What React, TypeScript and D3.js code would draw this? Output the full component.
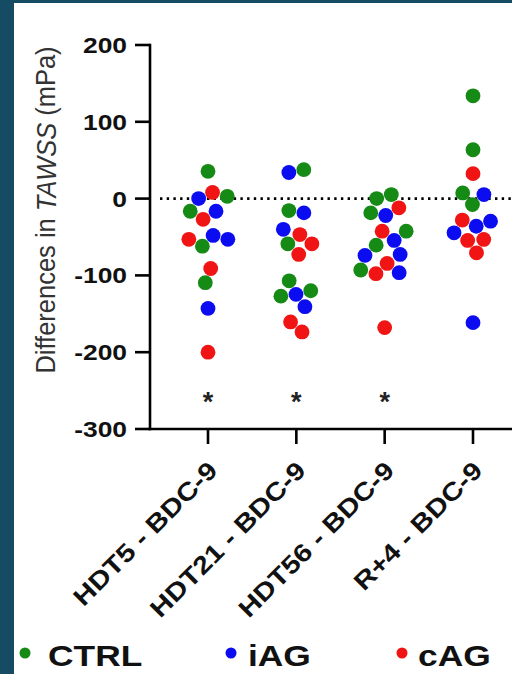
import React, { useMemo } from "react";
import * as d3 from "d3";

// ---------- data ----------
const categories = ["HDT5 - BDC-9", "HDT21 - BDC-9", "HDT56 - BDC-9", "R+4 - BDC-9"];
const seriesNames = ["CTRL", "iAG", "cAG"];
const ctrlValues = [
  [35.5, 3, -16.5, -62, -109.5],
  [37.7, -15.6, -58.9, -107, -127, -120],
  [5.2, 0, -18.6, -42.4, -60.6, -93],
  [133.8, 63.6, 7.4, -7.8],
];
const iagValues = [
  [0, -16.5, -53, -48, -143],
  [34, -18.6, -40, -124.7, -140.7],
  [-22, -54.5, -74, -72.7, -96.5],
  [5.2, -36, -29.4, -44.6, -161.5],
];
const cagValues = [
  [8, -27, -53, -91, -200],
  [-46.8, -58.9, -72.7, -160.6, -173.6],
  [-12, -42.4, -84.4, -97.8, -168],
  [32.5, -28, -54.5, -53.2, -70.6],
];
const significance = ["*", "*", "*", ""];
const yTicks = [200, 100, 0, -100, -200, -300];
const yLabelPre = "Differences in ";
const yLabelItalic = "TAWSS";
const yLabelPost = " (mPa)";

// ---------- style ----------
const W = 512;
const H = 674;
const seriesColors = ["#158a15", "#0c0cf0", "#f01414"];
const teal = "#154b63";
const font = "'Liberation Sans', Arial, Helvetica, sans-serif";
const R = 7.4;

type Node = { cx: number; x: number; y: number; fy: number; color: string };

export default function App() {
  const x = d3.scalePoint<string>().domain(categories).range([208, 473]);
  const y = d3.scaleLinear().domain([-300, 200]).range([429, 45]);
  const allSeries = [ctrlValues, iagValues, cagValues];

  const nodes = useMemo(() => {
    const out: Node[] = [];
    categories.forEach((c, ci) => {
      const cx = x(c) as number;
      allSeries.forEach((s, si) => {
        s[ci].forEach((v) => {
          const py = y(v);
          out.push({ cx, x: cx, y: py, fy: py, color: seriesColors[si] });
        });
      });
    });
    const sim = d3
      .forceSimulation<Node>(out)
      .force("x", d3.forceX<Node>((d) => d.cx).strength(0.06))
      .force("collide", d3.forceCollide<Node>(R + 0.2).iterations(3))
      .stop();
    for (let i = 0; i < 400; i++) sim.tick();
    return out;
  }, []);

  const axisY = y(-300);
  const axisX = 150;

  return (
    <svg
      width={W}
      height={H}
      style={{ position: "absolute", left: 0, top: 0 }}
      fontFamily={font}
    >
      <rect x={0} y={0} width={W} height={H} fill={teal} />
      <rect x={14} y={3} width={W - 14} height={H - 3} fill="#ffffff" />

      {/* zero dotted line */}
      <line
        x1={160}
        x2={W}
        y1={y(0)}
        y2={y(0)}
        stroke="#000"
        strokeWidth={2.6}
        strokeDasharray="2.4 4.3"
      />

      {/* y axis */}
      <line x1={axisX} x2={axisX} y1={y(200) - 1.3} y2={axisY + 1.3} stroke="#000" strokeWidth={2.6} />
      {yTicks.map((t) => (
        <g key={t}>
          <line x1={axisX - 15} x2={axisX} y1={y(t)} y2={y(t)} stroke="#000" strokeWidth={2.6} />
          <text
            transform={`translate(${axisX - 23},${y(t) + 8}) scale(1.2,1)`}
            textAnchor="end"
            fontSize={22}
            fontWeight="bold"
            fill="#111"
          >
            {t}
          </text>
        </g>
      ))}
      <text
        transform={`translate(45,210) scale(1.12,1) rotate(-90)`}
        textAnchor="middle"
        dominantBaseline="central"
        fontSize={25.5}
        fill="#333"
      >
        {yLabelPre}
        <tspan fontStyle="italic">{yLabelItalic}</tspan>
        {yLabelPost}
      </text>

      {/* x axis */}
      <line x1={axisX - 1.3} x2={W} y1={axisY} y2={axisY} stroke="#000" strokeWidth={2.6} />
      {categories.map((c, i) => {
        const cx = x(c) as number;
        return (
          <g key={c}>
            <line x1={cx} x2={cx} y1={axisY} y2={axisY + 15} stroke="#000" strokeWidth={2.6} />
            <text
              transform={`translate(${cx + 11},${axisY + 43}) rotate(-45) scale(1.17,1)`}
              textAnchor="end"
              fontSize={25}
              fontWeight="bold"
              fill="#111"
            >
              {c}
            </text>
            {significance[i] && (
              <text
                x={cx}
                y={y(-258) + 14}
                textAnchor="middle"
                fontSize={27}
                fontWeight="bold"
                fill="#222"
              >
                {significance[i]}
              </text>
            )}
          </g>
        );
      })}

      {/* points */}
      {nodes.map((n, i) => (
        <circle key={i} cx={n.x} cy={n.fy} r={R} fill={n.color} />
      ))}

      {/* legend */}
      {[
        { name: seriesNames[0], dot: 25, text: 48 },
        { name: seriesNames[1], dot: 231, text: 248 },
        { name: seriesNames[2], dot: 402, text: 418 },
      ].map((l, i) => (
        <g key={l.name}>
          <circle cx={l.dot} cy={653} r={5.5} fill={seriesColors[i]} />
          <text
            transform={`translate(${l.text},666) scale(1.22,1)`}
            fontSize={29}
            fontWeight="bold"
            fill="#111"
          >
            {l.name}
          </text>
        </g>
      ))}
    </svg>
  );
}
